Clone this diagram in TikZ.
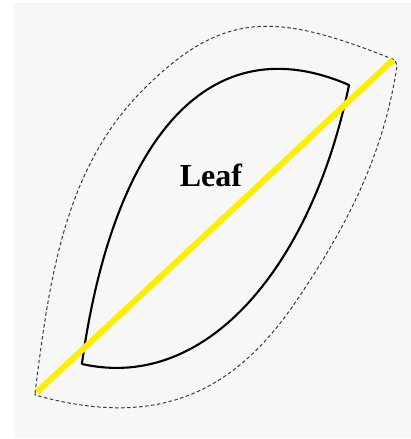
\documentclass[tikz,border=0pt]{standalone}
\usepackage{fontspec}
\setmainfont{Liberation Serif}
\definecolor{bggray}{HTML}{F7F7F7}
\definecolor{leafyellow}{HTML}{FFEE00}
\definecolor{dashgray}{HTML}{3A3A3A}
\begin{document}
\begin{tikzpicture}[x=1pt,y=-1pt,
  outline/.style={draw=black,line width=2.1pt,line join=round},
  halo/.style={draw=dashgray,line width=1pt,dash pattern=on 3.5pt off 2.5pt},
  axis/.style={draw=leafyellow,line width=6pt}]
\useasboundingbox (0,0) rectangle (411,439);
\fill[white] (0,0) rectangle (411,439);
\fill[bggray] (14,3) rectangle (411,438);
% outer dashed outline
\draw[halo] (35,393) .. controls (48.9,284) and (63,172.2) .. (140,93)
  .. controls (224,6.6) and (278.75,13.75) .. (395,60)
  -- (397,66) .. controls (383.5,155) and (347.4,225.3) .. (297,300)
  .. controls (235.4,391.3) and (159.8,430.1) .. (35,395) -- cycle;
% inner leaf
\draw[outline] (82,363) .. controls (114,135) and (211,25) .. (349,85)
  .. controls (313,261) and (209.4,392.6) .. (82,364) -- cycle;
% yellow axis
\coordinate (p1) at (37,392);
\coordinate (p2) at (393,60);
\draw[axis] (p1) -- (p2);
\node[anchor=base,inner sep=0pt,font=\fontsize{32}{36}\selectfont\bfseries] (lbl) at (211,186) {Leaf};
\end{tikzpicture}
\end{document}
